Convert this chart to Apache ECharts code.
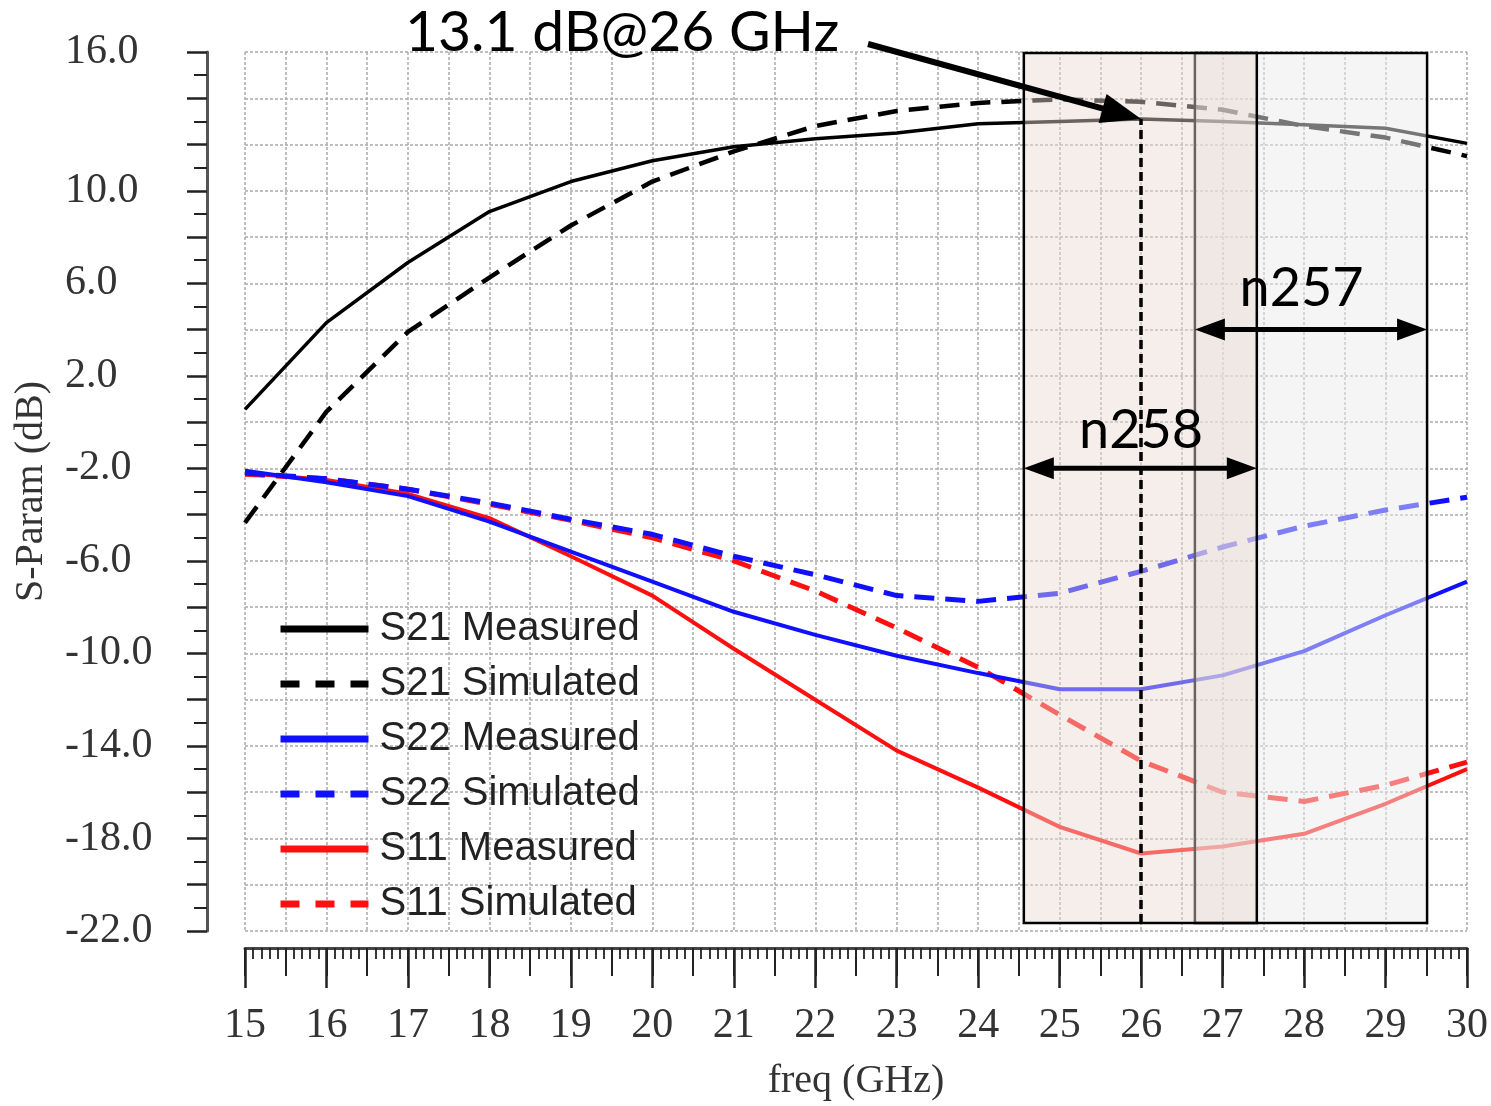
<!DOCTYPE html>
<html>
<head>
<meta charset="utf-8">
<script src="https://cdn.jsdelivr.net/npm/echarts@6.0.0/dist/echarts.min.js"></script>
<style>
  html, body { margin: 0; padding: 0; background: #fff; }
  #chart { width: 1491px; height: 1106px; }
</style>
</head>
<body>
<div id="chart"></div>
<script>
// frequency points (GHz)
const freq = [15, 16, 17, 18, 19, 20, 21, 22, 23, 24, 25, 26, 27, 28, 29, 30]

// S-parameters (dB)
const s21Meas = [0.55, 4.3, 6.9, 9.1, 10.4, 11.3, 11.9, 12.25, 12.5, 12.9, 13.0, 13.1, 13.0, 12.85, 12.7, 12.05]
const s21Sim = [-4.35, 0.45, 3.9, 6.25, 8.5, 10.4, 11.7, 12.8, 13.45, 13.8, 13.95, 13.85, 13.5, 12.8, 12.3, 11.5]
const s22Meas = [-2.1, -2.6, -3.2, -4.3, -5.6, -6.9, -8.2, -9.2, -10.1, -10.85, -11.55, -11.55, -10.95, -9.9, -8.35, -6.9]
const s22Sim = [-2.2, -2.45, -2.9, -3.5, -4.2, -4.85, -5.8, -6.6, -7.5, -7.75, -7.4, -6.45, -5.4, -4.5, -3.8, -3.25]
const s11Meas = [-2.2, -2.5, -3.1, -4.15, -5.8, -7.5, -9.8, -12.0, -14.2, -15.8, -17.5, -18.65, -18.35, -17.8, -16.5, -15.0]
const s11Sim = [-2.25, -2.45, -2.9, -3.55, -4.25, -5.0, -6.0, -7.3, -8.9, -10.6, -12.65, -14.65, -16.0, -16.4, -15.7, -14.7]

// y tick labels that are printed
const yLabels = [16, 10, 6, 2, -2, -6, -10, -14, -18, -22]

// shaded bands [fromGHz, toGHz] and their box extent in dB
const bandN258 = [24.56, 27.42]
const bandN257 = [26.66, 29.51]
const boxDb = [-21.65, 15.96]
const markerFreq = 26
const markerGain = 13.1
const arrowN258Db = -2.0
const arrowN257Db = 4.0

const serif = 'Liberation Serif'
const gridLine = { color: '#ababab', width: 1.5, type: [3, 2] }
const dash = [20, 11]
const blue = '#1010ff'
const red = '#ff1010'

const pairs = ys => freq.map((f, i) => [f, ys[i]])

function lineSeries(name, ys, color, width, type) {
  return {
    name,
    type: 'line',
    data: pairs(ys),
    symbol: 'none',
    z: 2,
    lineStyle: { color, width, type },
    itemStyle: { color },
  }
}

const chart = echarts.init(document.getElementById('chart'))

chart.setOption({
  animation: false,
  backgroundColor: '#fff',
  grid: { left: 245, right: 24, top: 52, bottom: 171 },
  legend: {
    orient: 'vertical',
    left: 272,
    top: 602,
    itemWidth: 88,
    // tiny height keeps the legend's default dot hidden under the line
    itemHeight: 2,
    itemGap: 11,
    lineStyle: { width: 7 },
    textStyle: { fontFamily: 'Liberation Sans', fontSize: 40, color: '#222', lineHeight: 44, padding: [0, 0, 0, 6] },
    data: [
      { name: 'S21 Measured' },
      { name: 'S21 Simulated', lineStyle: { type: [19, 16] } },
      { name: 'S22 Measured' },
      { name: 'S22 Simulated', lineStyle: { type: [19, 16] } },
      { name: 'S11 Measured' },
      { name: 'S11 Simulated', lineStyle: { type: [19, 16] } },
    ],
  },
  xAxis: [
    {
      type: 'value',
      min: 15,
      max: 30,
      interval: 1,
      position: 'bottom',
      offset: 17,
      name: 'freq (GHz)',
      nameLocation: 'middle',
      nameGap: 113,
      nameTextStyle: { fontFamily: serif, fontSize: 40, color: '#333' },
      axisLine: { onZero: false, lineStyle: { color: '#444', width: 3 } },
      axisTick: { length: 40, lineStyle: { color: '#222', width: 2.5 } },
      minorTick: { show: true, splitNumber: 10, length: 11, lineStyle: { color: '#222', width: 1.8 } },
      axisLabel: { fontFamily: serif, fontSize: 42, color: '#333', margin: 57 },
      splitLine: { show: false },
    },
    {
      type: 'value',
      min: 15,
      max: 30,
      interval: 0.5,
      position: 'bottom',
      offset: 17,
      axisLine: { show: false, onZero: false },
      axisTick: { length: 28, lineStyle: { color: '#222', width: 2 } },
      axisLabel: { show: false },
      splitLine: { show: true, lineStyle: gridLine },
    },
  ],
  yAxis: {
    type: 'value',
    min: -22,
    max: 16,
    interval: 2,
    offset: 38,
    name: 'S-Param (dB)',
    nameLocation: 'middle',
    nameGap: 156,
    nameTextStyle: { fontFamily: serif, fontSize: 40, color: '#333' },
    axisLine: { show: true, onZero: false, lineStyle: { color: '#555', width: 3 } },
    axisTick: { show: true, length: 20, lineStyle: { color: '#222', width: 2.5 } },
    minorTick: { show: true, splitNumber: 2, length: 13, lineStyle: { color: '#222', width: 2 } },
    axisLabel: {
      fontFamily: serif,
      fontSize: 42,
      color: '#333',
      align: 'left',
      margin: 142,
      formatter: v => (yLabels.includes(v) ? v.toFixed(1) : ''),
    },
    splitLine: { show: true, lineStyle: gridLine },
  },
  series: [
    lineSeries('S21 Measured', s21Meas, '#000', 3.5, 'solid'),
    lineSeries('S21 Simulated', s21Sim, '#000', 4.5, dash),
    lineSeries('S11 Measured', s11Meas, red, 4, 'solid'),
    lineSeries('S11 Simulated', s11Sim, red, 5, dash),
    lineSeries('S22 Measured', s22Meas, blue, 4, 'solid'),
    lineSeries('S22 Simulated', s22Sim, blue, 5, dash),
    {
      // band boxes drawn over the curves so they fade them
      name: 'bands',
      type: 'line',
      data: [],
      z: 3,
      markArea: {
        z: 3,
        silent: true,
        label: { show: false },
        data: [
          [
            { coord: [bandN257[0], boxDb[0]], itemStyle: { color: 'rgba(235,235,235,0.5)', borderColor: '#000', borderWidth: 2.5 } },
            { coord: [bandN257[1], boxDb[1]] },
          ],
          [
            { coord: [bandN258[0], boxDb[0]], itemStyle: { color: 'rgba(233,217,208,0.45)', borderColor: '#000', borderWidth: 2.5 } },
            { coord: [bandN258[1], boxDb[1]] },
          ],
        ],
      },
      markLine: {
        z: 5,
        silent: true,
        symbol: 'none',
        label: { show: false },
        lineStyle: { color: '#000', width: 3.5, type: [9, 5] },
        data: [[{ coord: [markerFreq, boxDb[0]] }, { coord: [markerFreq, markerGain] }]],
      },
    },
  ],
})

// annotations: arrows and band names, placed from data coordinates
const px = p => chart.convertToPixel({ seriesIndex: 0 }, p)

function arrow(a, b, width, headL, headW, both) {
  const dx = b[0] - a[0]
  const dy = b[1] - a[1]
  const len = Math.hypot(dx, dy)
  const ux = dx / len
  const uy = dy / len
  const nx = -uy
  const ny = ux
  const head = (tip, dirX, dirY) => {
    const bx = tip[0] - dirX * headL
    const by = tip[1] - dirY * headL
    return {
      type: 'polygon',
      z: 100,
      silent: true,
      shape: { points: [tip, [bx + nx * headW / 2, by + ny * headW / 2], [bx - nx * headW / 2, by - ny * headW / 2]] },
      style: { fill: '#000' },
    }
  }
  const s = both ? [a[0] + ux * headL * 0.8, a[1] + uy * headL * 0.8] : a
  const e = [b[0] - ux * headL * 0.8, b[1] - uy * headL * 0.8]
  const out = [
    { type: 'line', z: 100, silent: true, shape: { x1: s[0], y1: s[1], x2: e[0], y2: e[1] }, style: { stroke: '#000', lineWidth: width } },
    head(b, ux, uy),
  ]
  if (both) out.push(head(a, -ux, -uy))
  return out
}

function label(text, p, size) {
  return {
    type: 'text',
    z: 100,
    silent: true,
    style: { text, x: p[0], y: p[1], fontFamily: 'Lato', fontSize: size, fill: '#000', align: 'center', verticalAlign: 'middle' },
  }
}

const tip = px([markerFreq, markerGain])
const elements = [
  {
    type: 'text',
    z: 100,
    silent: true,
    style: { text: '13.1 dB@26 GHz', x: 405, y: 33, fontFamily: 'Lato', fontSize: 57, fill: '#000', align: 'left', verticalAlign: 'middle' },
  },
  ...arrow([868, 44], tip, 6, 40, 30, false),
  ...arrow(px([bandN258[0], arrowN258Db]), px([bandN258[1], arrowN258Db]), 5, 30, 22, true),
  ...arrow(px([bandN257[0], arrowN257Db]), px([bandN257[1], arrowN257Db]), 5, 30, 22, true),
  label('n258', px([26.0, -0.35]), 54),
  label('n257', px([27.97, 5.76]), 54),
]

chart.setOption({ graphic: { elements } })
</script>
</body>
</html>
